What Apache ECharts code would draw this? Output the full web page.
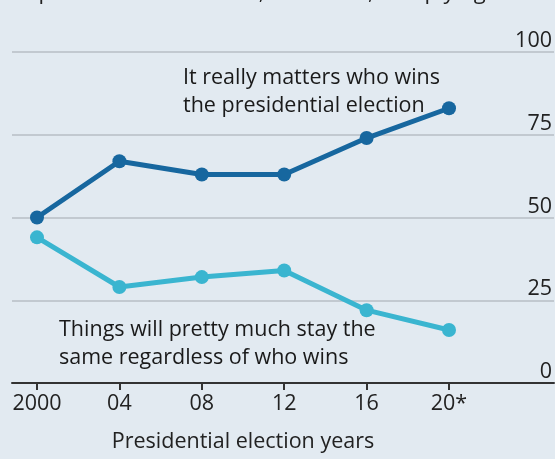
<!DOCTYPE html>
<html>
<head>
<meta charset="utf-8">
<script src="https://cdn.jsdelivr.net/npm/echarts@6/dist/echarts.min.js"></script>
<style>
html,body{margin:0;padding:0;background:#e2eaf1;}
#chart{width:555px;height:459px;}
</style>
</head>
<body>
<div id="chart"></div>
<script>
const categories = ['2000', '04', '08', '12', '16', '20*'];
const mattersValues = [50, 67, 63, 63, 74, 83];
const sameValues = [44, 29, 32, 34, 22, 16];
const yTicks = [0, 25, 50, 75, 100];
const titleText = 'Importance of who wins, US voters, % replying';
const mattersLabel = ['It really matters who wins', 'the presidential election'];
const sameLabel = ['Things will pretty much stay the', 'same regardless of who wins'];
const xAxisTitle = 'Presidential election years';

const FONT = 'Open Sans';
const FS = 21.5;
const chart = echarts.init(document.getElementById('chart'));
const option = {
  backgroundColor: '#e2eaf1',
  animation: false,
  textStyle: { fontFamily: FONT },
  grid: [
    { left: 37, right: 106, top: 52, bottom: 76 },
    { left: 12, right: 0, top: 52, bottom: 76 }
  ],
  xAxis: [
    {
      gridIndex: 0, type: 'category', data: categories, boundaryGap: false,
      axisLine: { show: false },
      axisTick: { show: true, alignWithLabel: true, length: 7, lineStyle: { color: '#333', width: 2 } },
      axisLabel: { color: '#222', fontSize: FS, fontFamily: FONT, margin: 10 },
      name: xAxisTitle, nameLocation: 'middle', nameGap: 48,
      nameTextStyle: { color: '#222', fontSize: FS, fontFamily: FONT },
      splitLine: { show: false }
    },
    {
      gridIndex: 1, type: 'value', min: 0, max: 1,
      axisLine: { show: true, lineStyle: { color: '#333', width: 2 } },
      axisTick: { show: false }, axisLabel: { show: false }, splitLine: { show: false }
    }
  ],
  yAxis: [
    {
      gridIndex: 0, type: 'value', min: 0, max: 100, interval: 25,
      show: false, splitLine: { show: false }
    },
    {
      gridIndex: 1, type: 'value', min: yTicks[0], max: yTicks[yTicks.length - 1], interval: 25,
      position: 'right',
      axisLine: { show: false }, axisTick: { show: false },
      axisLabel: { inside: true, margin: 2, verticalAlign: 'bottom', color: '#222', fontSize: FS, fontFamily: FONT,
        formatter: v => yTicks.includes(v) ? String(v) : '' },
      splitLine: { show: true, lineStyle: { color: '#b7bec5', width: 1.5 } }
    }
  ],
  series: [
    {
      name: mattersLabel.join(' '), type: 'line', xAxisIndex: 0, yAxisIndex: 0,
      data: mattersValues, symbol: 'circle', symbolSize: 14,
      lineStyle: { color: '#17679f', width: 5 }, itemStyle: { color: '#17679f' }, z: 3
    },
    {
      name: sameLabel.join(' '), type: 'line', xAxisIndex: 0, yAxisIndex: 0,
      data: sameValues, symbol: 'circle', symbolSize: 14,
      lineStyle: { color: '#3ab5d0', width: 5 }, itemStyle: { color: '#3ab5d0' }, z: 3
    }
  ],
  graphic: [
    { type: 'text', left: 12, top: -18, style: { text: titleText, fill: '#222', font: '22px "' + FONT + '"' } },
    { type: 'text', left: 183, top: 64, style: { text: mattersLabel.join('\n'), fill: '#1a1a1a', font: FS + 'px "' + FONT + '"', lineHeight: 28 } },
    { type: 'text', left: 59, top: 316, style: { text: sameLabel.join('\n'), fill: '#1a1a1a', font: FS + 'px "' + FONT + '"', lineHeight: 28 } }
  ]
};
chart.setOption(option);
</script>
</body>
</html>
